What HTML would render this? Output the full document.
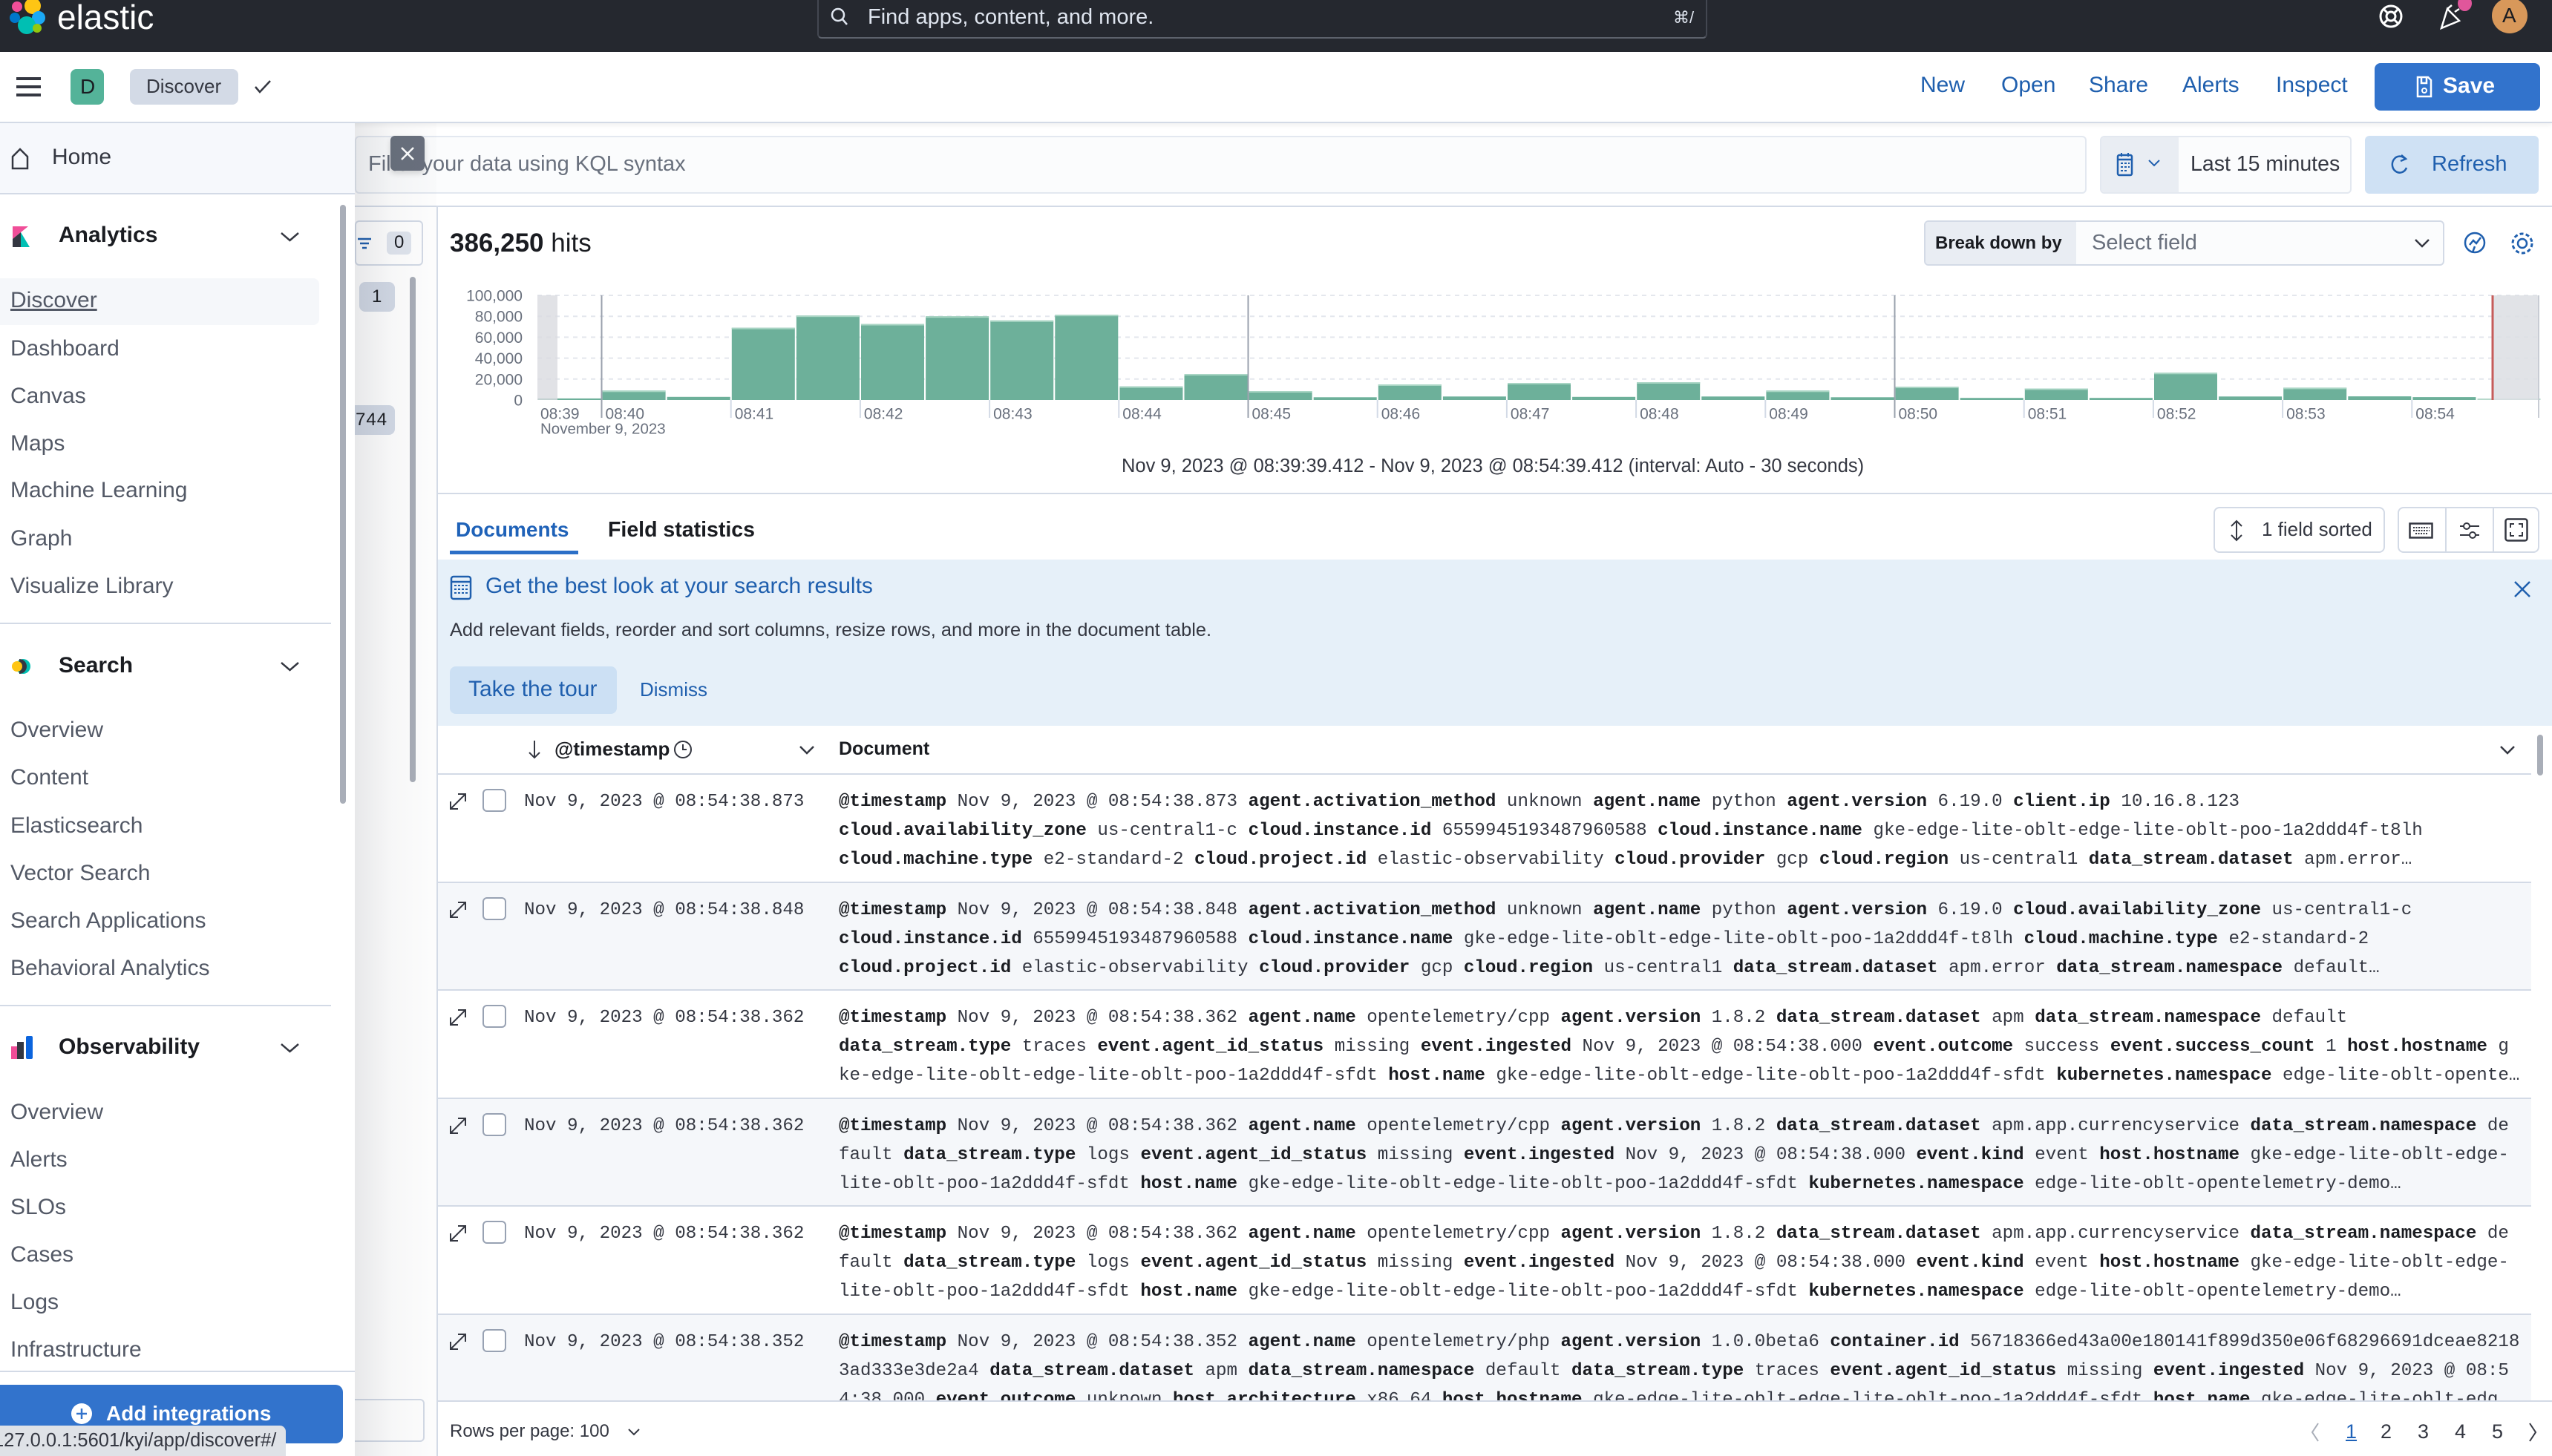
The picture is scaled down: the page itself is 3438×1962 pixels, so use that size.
<!DOCTYPE html>
<html><head><meta charset="utf-8">
<style>
*{margin:0;padding:0;box-sizing:border-box}
html,body{width:3438px;height:1962px;overflow:hidden;background:#fff;font-family:"Liberation Sans",Arial,sans-serif;color:#343741}
.a{position:absolute}
.t{position:absolute;white-space:nowrap;line-height:1}
.nav{font-size:30px;color:#535966;left:14px}
.navh{font-size:30px;font-weight:bold;color:#1a1c21;left:79px}
.lnk{font-size:30px;color:#1f5fae;top:100px}
.row{position:absolute;left:0;width:2820px;height:145.5px;border-bottom:2px solid #d3dae6}
.row.g{background:#f5f7fa}
.ts{position:absolute;left:116px;top:17px;font:24.2px/39px "Liberation Mono",monospace;white-space:pre;color:#343741}
.doc{position:absolute;left:540px;top:17px;font:24.2px/39px "Liberation Mono",monospace;white-space:pre;color:#343741}
.doc b{color:#1a1c21}
.cb{position:absolute;left:60px;top:19px;width:32px;height:31px;border:2px solid #98a2b3;border-radius:6px;background:#fff}
.ex{position:absolute;left:13px;top:22px}
</style></head><body>

<!-- Histogram chart -->
<svg class="a" style="left:0;top:0" width="3438" height="700">
<g stroke="#e4e7ed" stroke-width="2" stroke-dasharray="6 6">
<line x1="724" y1="398" x2="3419" y2="398"/><line x1="724" y1="426.2" x2="3419" y2="426.2"/><line x1="724" y1="454.4" x2="3419" y2="454.4"/><line x1="724" y1="482.6" x2="3419" y2="482.6"/><line x1="724" y1="510.8" x2="3419" y2="510.8"/>
</g>
<g fill="#6db09a">
<rect x="724.5" y="536.9" width="85" height="2.1"/>
<rect x="811.6" y="526.3" width="85" height="12.7"/>
<rect x="898.7" y="534.8" width="85" height="4.2"/>
<rect x="985.8" y="441.7" width="85" height="97.3"/>
<rect x="1072.9" y="425.2" width="85" height="113.8"/>
<rect x="1160.0" y="436.6" width="85" height="102.4"/>
<rect x="1247.1" y="426.2" width="85" height="112.8"/>
<rect x="1334.2" y="431.8" width="85" height="107.2"/>
<rect x="1421.3" y="424.2" width="85" height="114.8"/>
<rect x="1508.4" y="520.7" width="85" height="18.3"/>
<rect x="1595.5" y="504.0" width="85" height="35.0"/>
<rect x="1682.6" y="527.0" width="85" height="12.0"/>
<rect x="1769.7" y="535.3" width="85" height="3.7"/>
<rect x="1856.8" y="518.0" width="85" height="21.0"/>
<rect x="1943.9" y="534.3" width="85" height="4.7"/>
<rect x="2031.0" y="516.0" width="85" height="23.0"/>
<rect x="2118.1" y="534.8" width="85" height="4.2"/>
<rect x="2205.2" y="515.0" width="85" height="24.0"/>
<rect x="2292.3" y="534.3" width="85" height="4.7"/>
<rect x="2379.4" y="526.3" width="85" height="12.7"/>
<rect x="2466.5" y="535.3" width="85" height="3.7"/>
<rect x="2553.6" y="521.1" width="85" height="17.9"/>
<rect x="2640.7" y="536.2" width="85" height="2.8"/>
<rect x="2727.8" y="523.5" width="85" height="15.5"/>
<rect x="2814.9" y="536.2" width="85" height="2.8"/>
<rect x="2902.0" y="502.3" width="85" height="36.7"/>
<rect x="2989.1" y="534.3" width="85" height="4.7"/>
<rect x="3076.2" y="522.4" width="85" height="16.6"/>
<rect x="3163.3" y="534.1" width="85" height="4.9"/>
<rect x="3250.4" y="535.1" width="85" height="3.9"/>
<rect x="3337.5" y="537" width="85" height="2" fill="#b7d9cc"/>
</g>
<g fill="#a9d5c4">
<rect x="811.6" y="526.3" width="85" height="2"/><rect x="985.8" y="441.7" width="85" height="2"/><rect x="1072.9" y="425.2" width="85" height="2"/><rect x="1160.0" y="436.6" width="85" height="2"/><rect x="1247.1" y="426.2" width="85" height="2"/><rect x="1334.2" y="431.8" width="85" height="2"/><rect x="1421.3" y="424.2" width="85" height="2"/><rect x="1508.4" y="520.7" width="85" height="2"/><rect x="1595.5" y="504.0" width="85" height="2"/><rect x="1682.6" y="527.0" width="85" height="2"/><rect x="1856.8" y="518.0" width="85" height="2"/><rect x="2031.0" y="516.0" width="85" height="2"/><rect x="2205.2" y="515.0" width="85" height="2"/><rect x="2379.4" y="526.3" width="85" height="2"/><rect x="2553.6" y="521.1" width="85" height="2"/><rect x="2727.8" y="523.5" width="85" height="2"/><rect x="2902.0" y="502.3" width="85" height="2"/><rect x="3076.2" y="522.4" width="85" height="2"/>
</g>
<rect x="724" y="398" width="27" height="141" fill="#d9dbe0" opacity="0.8"/>
<rect x="3358" y="398" width="62" height="141" fill="#dcdee3" opacity="0.85"/>
<line x1="3358" y1="398" x2="3358" y2="539" stroke="#c65c5b" stroke-width="3"/>
<g stroke="#9aa1ad" stroke-width="2">
<line x1="810.5" y1="398" x2="810.5" y2="563"/><line x1="1681.5" y1="398" x2="1681.5" y2="563"/><line x1="2552.5" y1="398" x2="2552.5" y2="563"/>
</g>
<line x1="3420" y1="398" x2="3420" y2="563" stroke="#c8ccd4" stroke-width="2"/>
<g stroke="#d3dae6" stroke-width="2">
<line x1="984.7" y1="539" x2="984.7" y2="563"/><line x1="1158.9" y1="539" x2="1158.9" y2="563"/><line x1="1333.1" y1="539" x2="1333.1" y2="563"/><line x1="1507.3" y1="539" x2="1507.3" y2="563"/><line x1="1855.7" y1="539" x2="1855.7" y2="563"/><line x1="2029.9" y1="539" x2="2029.9" y2="563"/><line x1="2204.1" y1="539" x2="2204.1" y2="563"/><line x1="2378.3" y1="539" x2="2378.3" y2="563"/><line x1="2726.7" y1="539" x2="2726.7" y2="563"/><line x1="2900.9" y1="539" x2="2900.9" y2="563"/><line x1="3075.1" y1="539" x2="3075.1" y2="563"/><line x1="3249.3" y1="539" x2="3249.3" y2="563"/>
</g>
<g font-family="Liberation Sans, Arial, sans-serif" font-size="21" fill="#69707d">
<text x="704" y="405.5" text-anchor="end">100,000</text>
<text x="704" y="433.7" text-anchor="end">80,000</text>
<text x="704" y="461.9" text-anchor="end">60,000</text>
<text x="704" y="490.1" text-anchor="end">40,000</text>
<text x="704" y="518.3" text-anchor="end">20,000</text>
<text x="704" y="546.5" text-anchor="end">0</text>
<text x="728" y="564.5">08:39</text>
<text x="815.5" y="564.5">08:40</text>
<text x="989.7" y="564.5">08:41</text>
<text x="1163.9" y="564.5">08:42</text>
<text x="1338.1" y="564.5">08:43</text>
<text x="1512.3" y="564.5">08:44</text>
<text x="1686.5" y="564.5">08:45</text>
<text x="1860.7" y="564.5">08:46</text>
<text x="2034.9" y="564.5">08:47</text>
<text x="2209.1" y="564.5">08:48</text>
<text x="2383.3" y="564.5">08:49</text>
<text x="2557.5" y="564.5">08:50</text>
<text x="2731.7" y="564.5">08:51</text>
<text x="2905.9" y="564.5">08:52</text>
<text x="3080.1" y="564.5">08:53</text>
<text x="3254.3" y="564.5">08:54</text>
<text x="728" y="584.5" font-size="20.5">November 9, 2023</text>
</g>
</svg>

<!-- Top dark header -->
<div class="a" style="left:0;top:0;width:3438px;height:70px;background:#25282f"></div>
<svg class="a" style="left:10px;top:0" width="56" height="48">
<circle cx="34" cy="8" r="11" fill="#fec514"/>
<circle cx="13" cy="9" r="7" fill="#f04e98"/>
<circle cx="42" cy="24" r="9" fill="#1ba9f5"/>
<circle cx="10" cy="24" r="7" fill="#0077cc"/>
<circle cx="26" cy="34" r="12" fill="#00bfb3"/>
<circle cx="40" cy="38" r="6" fill="#93c90e"/>
</svg>
<div class="t" style="left:77px;top:0;font-size:46px;color:#fff">elastic</div>
<div class="a" style="left:1101px;top:-6px;width:1199px;height:58px;border:2px solid #434751;border-bottom-color:#5d626c;border-radius:6px"></div>
<svg class="a" style="left:1116px;top:8px" width="30" height="30"><circle cx="13" cy="12" r="8" fill="none" stroke="#dfe5ef" stroke-width="2.5"/><line x1="19" y1="18" x2="25" y2="25" stroke="#dfe5ef" stroke-width="2.5"/></svg>
<div class="t" style="left:1169px;top:9px;font-size:29px;color:#dfe5ef">Find apps, content, and more.</div>
<div class="t" style="left:2254px;top:13px;font-size:22px;color:#dfe5ef">⌘/</div>
<svg class="a" style="left:3203px;top:4px" width="36" height="36"><circle cx="18" cy="18" r="14" fill="none" stroke="#fff" stroke-width="3"/><circle cx="18" cy="18" r="6" fill="none" stroke="#fff" stroke-width="3"/><path d="M8 8 L14 14 M28 8 L22 14 M8 28 L14 22 M28 28 L22 22" stroke="#fff" stroke-width="3"/></svg>
<svg class="a" style="left:3283px;top:4px" width="40" height="40"><path d="M6 34 L14 8 L30 24 Z M14 8 L20 3 M24 12 L30 8" fill="none" stroke="#fff" stroke-width="2.5"/></svg>
<div class="a" style="left:3311px;top:-6px;width:19px;height:21px;border-radius:50%;background:#e0569b"></div>
<div class="a" style="left:3357px;top:-3px;width:48px;height:48px;border-radius:50%;background:#d8985a"></div>
<div class="t" style="left:3371px;top:7px;font-size:28px;color:#1a1c21">A</div>

<!-- Second header -->
<div class="a" style="left:0;top:70px;width:3438px;height:96px;background:#fff;border-bottom:2px solid #d3dae6;box-shadow:0 3px 6px rgba(0,0,0,0.06)"></div>
<div class="a" style="left:22px;top:104px;width:33px;height:4px;background:#343741"></div>
<div class="a" style="left:22px;top:115px;width:33px;height:4px;background:#343741"></div>
<div class="a" style="left:22px;top:126px;width:33px;height:4px;background:#343741"></div>
<div class="a" style="left:95px;top:93px;width:45px;height:48px;border-radius:8px;background:#54b399"></div>
<div class="t" style="left:108px;top:103px;font-size:28px;color:#1a1c21">D</div>
<div class="a" style="left:175px;top:93px;width:146px;height:48px;border-radius:8px;background:#d3dae6"></div>
<div class="t" style="left:197px;top:103px;font-size:26px;color:#343741">Discover</div>
<svg class="a" style="left:341px;top:106px" width="26" height="22"><path d="M3 11 L9 18 L23 3" fill="none" stroke="#343741" stroke-width="2.5"/></svg>
<div class="t lnk" style="left:2587px">New</div>
<div class="t lnk" style="left:2696px">Open</div>
<div class="t lnk" style="left:2814px">Share</div>
<div class="t lnk" style="left:2940px">Alerts</div>
<div class="t lnk" style="left:3066px">Inspect</div>
<div class="a" style="left:3199px;top:85px;width:223px;height:64px;border-radius:8px;background:#3273cc"></div>
<svg class="a" style="left:3254px;top:102px" width="24" height="30"><path d="M3 2 H17 L21 6 V28 H3 Z M8 2 V10 H15 V2" fill="none" stroke="#fff" stroke-width="2.5"/><circle cx="12" cy="20" r="3" fill="none" stroke="#fff" stroke-width="2"/></svg>
<div class="t" style="left:3291px;top:101px;font-size:30px;color:#fff;font-weight:bold">Save</div>

<!-- Query bar -->
<div class="a" style="left:478px;top:183px;width:2333px;height:78px;background:#fbfcfd;border:2px solid #e3e8f0;border-radius:6px"></div>
<div class="t" style="left:496px;top:207px;font-size:29px;color:#69707d">Filter your data using KQL syntax</div>
<div class="a" style="left:526px;top:183px;width:46px;height:47px;background:#69707d;border-radius:6px;box-shadow:0 4px 8px rgba(0,0,0,0.15)"></div>
<svg class="a" style="left:537px;top:195px" width="24" height="24"><path d="M4 4 L20 20 M20 4 L4 20" stroke="#fff" stroke-width="2.5"/></svg>
<div class="a" style="left:2829px;top:183px;width:339px;height:78px;background:#fbfcfd;border:2px solid #e3e8f0;border-radius:6px;overflow:hidden"><div style="position:absolute;left:0;top:0;width:104px;height:76px;background:#e9edf3"></div></div>
<svg class="a" style="left:2851px;top:205px" width="24" height="34"><rect x="2" y="4" width="19" height="27" rx="2" fill="none" stroke="#1f5fae" stroke-width="2.5"/><line x1="2" y1="10" x2="21" y2="10" stroke="#1f5fae" stroke-width="2.5"/><path d="M6 15h3M11 15h3M16 15h2M6 20h3M11 20h3M16 20h2M6 25h3M11 25h3" stroke="#1f5fae" stroke-width="2"/><path d="M7 1v5M16 1v5" stroke="#1f5fae" stroke-width="2"/></svg>
<svg class="a" style="left:2893px;top:214px" width="18" height="12"><path d="M2 2 L9 9 L16 2" fill="none" stroke="#1f5fae" stroke-width="2"/></svg>
<div class="t" style="left:2951px;top:207px;font-size:28.5px;color:#343741">Last 15 minutes</div>
<div class="a" style="left:3186px;top:183px;width:234px;height:78px;background:#cfe1f4;border-radius:6px"></div>
<svg class="a" style="left:3220px;top:206px" width="26" height="32"><path d="M20 8 A10 11 0 1 0 22 20" fill="none" stroke="#1f5fae" stroke-width="2.5"/><path d="M15 3 L21 8 L14 11" fill="none" stroke="#1f5fae" stroke-width="2.5"/></svg>
<div class="t" style="left:3276px;top:207px;font-size:29px;color:#1f5fae">Refresh</div>
<div class="a" style="left:478px;top:277px;width:2960px;height:2px;background:#d3dae6"></div>

<!-- Fields column remnants -->
<div class="a" style="left:478px;top:297px;width:92px;height:61px;border:2px solid #d3dae6;border-radius:6px;background:#fff"></div>
<svg class="a" style="left:480px;top:318px" width="22" height="20"><path d="M2 4h18M5 10h12M8 16h6" stroke="#1f5fae" stroke-width="2.5"/></svg>
<div class="a" style="left:521px;top:312px;width:33px;height:31px;border-radius:6px;background:#e0e5ee"></div>
<div class="t" style="left:531px;top:315px;font-size:24px;color:#1a1c21">0</div>
<div class="a" style="left:484px;top:380px;width:48px;height:40px;border-radius:8px;background:#d3dae6"></div>
<div class="t" style="left:501px;top:388px;font-size:24px;color:#1a1c21">1</div>
<div class="a" style="left:470px;top:546px;width:62px;height:40px;border-radius:8px;background:#d3dae6"></div>
<div class="t" style="left:479px;top:554px;font-size:24px;color:#1a1c21;letter-spacing:1px">744</div>
<div class="a" style="left:552px;top:373px;width:8px;height:681px;border-radius:4px;background:#a9aeb8"></div>
<div class="a" style="left:470px;top:1885px;width:102px;height:58px;border:2px solid #d3dae6;border-radius:6px;background:#fff"></div>
<div class="a" style="left:588px;top:279px;width:2px;height:1683px;background:#d3dae6"></div>

<!-- Main panel top -->
<div class="t" style="left:606px;top:310px;font-size:35px;color:#1a1c21"><b>386,250</b> hits</div>
<div class="a" style="left:2592px;top:297px;width:701px;height:61px;border:2px solid #d3dae6;border-radius:6px;background:#fbfcfd;overflow:hidden"><div style="position:absolute;left:0;top:0;width:203px;height:57px;background:#e9edf3"></div></div>
<div class="t" style="left:2607px;top:316px;font-size:24px;font-weight:bold;color:#1a1c21">Break down by</div>
<div class="t" style="left:2818px;top:313px;font-size:29px;color:#69707d">Select field</div>
<svg class="a" style="left:3252px;top:321px" width="22" height="14"><path d="M2 2 L11 11 L20 2" fill="none" stroke="#343741" stroke-width="2.5"/></svg>
<svg class="a" style="left:3317px;top:310px" width="34" height="36"><circle cx="17" cy="17" r="13" fill="none" stroke="#1f5fae" stroke-width="2.5"/><path d="M10 20 L15 14 L19 18 L25 10 M14 30 L17 22" fill="none" stroke="#1f5fae" stroke-width="2.5"/></svg>
<svg class="a" style="left:3380px;top:310px" width="36" height="36"><circle cx="18" cy="18" r="6" fill="none" stroke="#1f5fae" stroke-width="2.5"/><circle cx="18" cy="18" r="13" fill="none" stroke="#1f5fae" stroke-width="3" stroke-dasharray="5 3.2"/></svg>
<div class="t" style="left:1511px;top:616px;font-size:25.5px;color:#343741">Nov 9, 2023 @ 08:39:39.412 - Nov 9, 2023 @ 08:54:39.412 (interval: Auto - 30 seconds)</div>
<div class="a" style="left:590px;top:664px;width:2848px;height:2px;background:#d3dae6"></div>

<!-- Tabs -->
<div class="t" style="left:614px;top:700px;font-size:28px;font-weight:bold;color:#1f62b8">Documents</div>
<div class="t" style="left:819px;top:700px;font-size:28.5px;font-weight:bold;color:#1a1c21">Field statistics</div>
<div class="a" style="left:606px;top:742px;width:173px;height:5px;background:#2b6fc7"></div>
<div class="a" style="left:2982px;top:683px;width:231px;height:62px;border:2px solid #d3dae6;border-radius:8px"></div>
<svg class="a" style="left:3003px;top:700px" width="20" height="30"><path d="M10 2 V28 M3 9 L10 2 L17 9 M3 21 L10 28 L17 21" fill="none" stroke="#343741" stroke-width="2"/></svg>
<div class="t" style="left:3047px;top:700px;font-size:26px;color:#343741">1 field sorted</div>
<div class="a" style="left:3230px;top:683px;width:191px;height:62px;border:2px solid #d3dae6;border-radius:8px"></div>
<div class="a" style="left:3294px;top:685px;width:2px;height:58px;background:#d3dae6"></div>
<div class="a" style="left:3358px;top:685px;width:2px;height:58px;background:#d3dae6"></div>
<svg class="a" style="left:3245px;top:704px" width="34" height="22"><rect x="1.5" y="1.5" width="30" height="19" fill="none" stroke="#343741" stroke-width="2.5"/><path d="M6 7h22M6 11h22M9 15h16" stroke="#343741" stroke-width="2" stroke-dasharray="2 1.5"/></svg>
<svg class="a" style="left:3312px;top:702px" width="30" height="26"><path d="M2 7h26M2 19h26" stroke="#343741" stroke-width="2"/><circle cx="11" cy="7" r="4" fill="#fff" stroke="#343741" stroke-width="2"/><circle cx="19" cy="19" r="4" fill="#fff" stroke="#343741" stroke-width="2"/></svg>
<svg class="a" style="left:3374px;top:698px" width="32" height="32"><rect x="1.5" y="1.5" width="29" height="29" rx="3" fill="none" stroke="#343741" stroke-width="2.5"/><path d="M8 13V8h5M19 8h5v5M24 19v5h-5M13 24H8v-5" fill="none" stroke="#343741" stroke-width="2"/></svg>

<!-- Callout -->
<div class="a" style="left:590px;top:754px;width:2848px;height:224px;background:#e6f0f9"></div>
<svg class="a" style="left:606px;top:775px" width="30" height="34"><rect x="2" y="2" width="26" height="30" rx="3" fill="none" stroke="#1f5fae" stroke-width="2.5"/><line x1="2" y1="9" x2="28" y2="9" stroke="#1f5fae" stroke-width="2.5"/><path d="M6 14h18M6 19h18M6 24h18" stroke="#1f5fae" stroke-width="2" stroke-dasharray="3 2"/></svg>
<div class="t" style="left:654px;top:775px;font-size:30px;color:#1f5fae">Get the best look at your search results</div>
<div class="t" style="left:606px;top:837px;font-size:25.4px;color:#343741">Add relevant fields, reorder and sort columns, resize rows, and more in the document table.</div>
<div class="a" style="left:606px;top:898px;width:225px;height:64px;border-radius:8px;background:#cce0f4"></div>
<div class="t" style="left:631px;top:914px;font-size:30px;color:#1f5fae">Take the tour</div>
<div class="t" style="left:862px;top:916px;font-size:26px;color:#1f5fae">Dismiss</div>
<svg class="a" style="left:3385px;top:781px" width="26" height="26"><path d="M3 3 L23 23 M23 3 L3 23" stroke="#1f5fae" stroke-width="2.5"/></svg>

<!-- Table header -->
<svg class="a" style="left:711px;top:996px" width="18" height="28"><path d="M9 2 V25 M2 18 L9 25 L16 18" fill="none" stroke="#343741" stroke-width="2"/></svg>
<div class="t" style="left:747px;top:996px;font-size:26px;font-weight:bold;color:#1a1c21">@timestamp</div>
<svg class="a" style="left:906px;top:995px" width="28" height="30"><circle cx="14" cy="15" r="11" fill="none" stroke="#343741" stroke-width="2"/><path d="M14 8 V15 H19" fill="none" stroke="#343741" stroke-width="2"/></svg>
<svg class="a" style="left:1076px;top:1004px" width="22" height="14"><path d="M2 2 L11 11 L20 2" fill="none" stroke="#343741" stroke-width="2.5"/></svg>
<div class="t" style="left:1130px;top:997px;font-size:25px;font-weight:bold;color:#1a1c21">Document</div>
<svg class="a" style="left:3367px;top:1004px" width="22" height="14"><path d="M2 2 L11 11 L20 2" fill="none" stroke="#343741" stroke-width="2.5"/></svg>
<div class="a" style="left:3418px;top:990px;width:8px;height:55px;border-radius:4px;background:#a9aeb8"></div>
<div class="a" style="left:590px;top:1042px;width:2820px;height:2px;background:#d3dae6"></div>

<!-- Rows -->
<div class="a" style="left:590px;top:1044px;width:2848px;height:844px;overflow:hidden">
<div class="row" style="top:0">
<svg class="ex" width="28" height="28"><path d="M4 24 L24 4 M14 4 H24 V14 M4 14 V24 H14" fill="none" stroke="#343741" stroke-width="2"/></svg><div class="cb"></div>
<div class="ts">Nov 9, 2023 @ 08:54:38.873</div>
<div class="doc"><b>@timestamp</b> Nov 9, 2023 @ 08:54:38.873 <b>agent.activation_method</b> unknown <b>agent.name</b> python <b>agent.version</b> 6.19.0 <b>client.ip</b> 10.16.8.123
<b>cloud.availability_zone</b> us-central1-c <b>cloud.instance.id</b> 6559945193487960588 <b>cloud.instance.name</b> gke-edge-lite-oblt-edge-lite-oblt-poo-1a2ddd4f-t8lh
<b>cloud.machine.type</b> e2-standard-2 <b>cloud.project.id</b> elastic-observability <b>cloud.provider</b> gcp <b>cloud.region</b> us-central1 <b>data_stream.dataset</b> apm.error…</div>
</div>
<div class="row g" style="top:145.5px">
<svg class="ex" width="28" height="28"><path d="M4 24 L24 4 M14 4 H24 V14 M4 14 V24 H14" fill="none" stroke="#343741" stroke-width="2"/></svg><div class="cb"></div>
<div class="ts">Nov 9, 2023 @ 08:54:38.848</div>
<div class="doc"><b>@timestamp</b> Nov 9, 2023 @ 08:54:38.848 <b>agent.activation_method</b> unknown <b>agent.name</b> python <b>agent.version</b> 6.19.0 <b>cloud.availability_zone</b> us-central1-c
<b>cloud.instance.id</b> 6559945193487960588 <b>cloud.instance.name</b> gke-edge-lite-oblt-edge-lite-oblt-poo-1a2ddd4f-t8lh <b>cloud.machine.type</b> e2-standard-2
<b>cloud.project.id</b> elastic-observability <b>cloud.provider</b> gcp <b>cloud.region</b> us-central1 <b>data_stream.dataset</b> apm.error <b>data_stream.namespace</b> default…</div>
</div>
<div class="row" style="top:291px">
<svg class="ex" width="28" height="28"><path d="M4 24 L24 4 M14 4 H24 V14 M4 14 V24 H14" fill="none" stroke="#343741" stroke-width="2"/></svg><div class="cb"></div>
<div class="ts">Nov 9, 2023 @ 08:54:38.362</div>
<div class="doc"><b>@timestamp</b> Nov 9, 2023 @ 08:54:38.362 <b>agent.name</b> opentelemetry/cpp <b>agent.version</b> 1.8.2 <b>data_stream.dataset</b> apm <b>data_stream.namespace</b> default
<b>data_stream.type</b> traces <b>event.agent_id_status</b> missing <b>event.ingested</b> Nov 9, 2023 @ 08:54:38.000 <b>event.outcome</b> success <b>event.success_count</b> 1 <b>host.hostname</b> g
ke-edge-lite-oblt-edge-lite-oblt-poo-1a2ddd4f-sfdt <b>host.name</b> gke-edge-lite-oblt-edge-lite-oblt-poo-1a2ddd4f-sfdt <b>kubernetes.namespace</b> edge-lite-oblt-opente…</div>
</div>
<div class="row g" style="top:436.5px">
<svg class="ex" width="28" height="28"><path d="M4 24 L24 4 M14 4 H24 V14 M4 14 V24 H14" fill="none" stroke="#343741" stroke-width="2"/></svg><div class="cb"></div>
<div class="ts">Nov 9, 2023 @ 08:54:38.362</div>
<div class="doc"><b>@timestamp</b> Nov 9, 2023 @ 08:54:38.362 <b>agent.name</b> opentelemetry/cpp <b>agent.version</b> 1.8.2 <b>data_stream.dataset</b> apm.app.currencyservice <b>data_stream.namespace</b> de
fault <b>data_stream.type</b> logs <b>event.agent_id_status</b> missing <b>event.ingested</b> Nov 9, 2023 @ 08:54:38.000 <b>event.kind</b> event <b>host.hostname</b> gke-edge-lite-oblt-edge-
lite-oblt-poo-1a2ddd4f-sfdt <b>host.name</b> gke-edge-lite-oblt-edge-lite-oblt-poo-1a2ddd4f-sfdt <b>kubernetes.namespace</b> edge-lite-oblt-opentelemetry-demo…</div>
</div>
<div class="row" style="top:582px">
<svg class="ex" width="28" height="28"><path d="M4 24 L24 4 M14 4 H24 V14 M4 14 V24 H14" fill="none" stroke="#343741" stroke-width="2"/></svg><div class="cb"></div>
<div class="ts">Nov 9, 2023 @ 08:54:38.362</div>
<div class="doc"><b>@timestamp</b> Nov 9, 2023 @ 08:54:38.362 <b>agent.name</b> opentelemetry/cpp <b>agent.version</b> 1.8.2 <b>data_stream.dataset</b> apm.app.currencyservice <b>data_stream.namespace</b> de
fault <b>data_stream.type</b> logs <b>event.agent_id_status</b> missing <b>event.ingested</b> Nov 9, 2023 @ 08:54:38.000 <b>event.kind</b> event <b>host.hostname</b> gke-edge-lite-oblt-edge-
lite-oblt-poo-1a2ddd4f-sfdt <b>host.name</b> gke-edge-lite-oblt-edge-lite-oblt-poo-1a2ddd4f-sfdt <b>kubernetes.namespace</b> edge-lite-oblt-opentelemetry-demo…</div>
</div>
<div class="row g" style="top:727.5px">
<svg class="ex" width="28" height="28"><path d="M4 24 L24 4 M14 4 H24 V14 M4 14 V24 H14" fill="none" stroke="#343741" stroke-width="2"/></svg><div class="cb"></div>
<div class="ts">Nov 9, 2023 @ 08:54:38.352</div>
<div class="doc"><b>@timestamp</b> Nov 9, 2023 @ 08:54:38.352 <b>agent.name</b> opentelemetry/php <b>agent.version</b> 1.0.0beta6 <b>container.id</b> 56718366ed43a00e180141f899d350e06f68296691dceae8218
3ad333e3de2a4 <b>data_stream.dataset</b> apm <b>data_stream.namespace</b> default <b>data_stream.type</b> traces <b>event.agent_id_status</b> missing <b>event.ingested</b> Nov 9, 2023 @ 08:5
4:38.000 <b>event.outcome</b> unknown <b>host.architecture</b> x86_64 <b>host.hostname</b> gke-edge-lite-oblt-edge-lite-oblt-poo-1a2ddd4f-sfdt <b>host.name</b> gke-edge-lite-oblt-edg</div>
</div>
</div>

<!-- Footer -->
<div class="a" style="left:590px;top:1887px;width:2848px;height:2px;background:#d3dae6"></div>
<div class="t" style="left:606px;top:1917px;font-size:24px;color:#343741">Rows per page: 100</div>
<svg class="a" style="left:845px;top:1924px" width="18" height="12"><path d="M2 2 L9 9 L16 2" fill="none" stroke="#343741" stroke-width="2"/></svg>
<svg class="a" style="left:3112px;top:1915px" width="14" height="30"><path d="M11 3 L3 15 L11 27" fill="none" stroke="#a9aeb8" stroke-width="2"/></svg>
<div class="t" style="left:3160px;top:1916px;font-size:27px;color:#1f62b8;text-decoration:underline">1</div>
<div class="t" style="left:3207px;top:1916px;font-size:27px;color:#343741">2</div>
<div class="t" style="left:3257px;top:1916px;font-size:27px;color:#343741">3</div>
<div class="t" style="left:3307px;top:1916px;font-size:27px;color:#343741">4</div>
<div class="t" style="left:3357px;top:1916px;font-size:27px;color:#343741">5</div>
<svg class="a" style="left:3405px;top:1915px" width="14" height="30"><path d="M3 3 L11 15 L3 27" fill="none" stroke="#343741" stroke-width="2"/></svg>

<!-- Flyout shadow -->
<div class="a" style="left:478px;top:166px;width:110px;height:1796px;background:linear-gradient(to right,rgba(40,45,60,0.11),rgba(40,45,60,0.04) 45%,rgba(40,45,60,0.01))"></div>

<!-- Left nav flyout -->
<div class="a" style="left:0;top:166px;width:478px;height:1796px;background:#fff">
<div style="position:absolute;left:0;top:0;width:478px;height:96px;background:#f6f8fc;border-bottom:2px solid #d3dae6"></div>
</div>
<svg class="a" style="left:14px;top:198px" width="26" height="32"><path d="M3 13 L13 3 L23 13 V29 H3 Z" fill="none" stroke="#343741" stroke-width="2.5"/></svg>
<div class="t" style="left:70px;top:197px;font-size:30px;color:#343741">Home</div>

<svg class="a" style="left:16px;top:304px" width="26" height="30"><path d="M1 1 H22 L1 18 Z" fill="#f04e98"/><path d="M1 18 L12 9 V29 H1 Z" fill="#343741"/><path d="M12 9 L24 29 H12 Z" fill="#00bfb3"/></svg>
<div class="t navh" style="top:302px">Analytics</div>
<svg class="a" style="left:377px;top:312px" width="27" height="14"><path d="M2 2 L13.5 12 L25 2" fill="none" stroke="#343741" stroke-width="2.5"/></svg>
<div class="a" style="left:0;top:375px;width:430px;height:63px;border-radius:0 8px 8px 0;background:#f5f7fa"></div>
<div class="t nav" style="top:390px;text-decoration:underline">Discover</div>
<div class="t nav" style="top:455px">Dashboard</div>
<div class="t nav" style="top:519px">Canvas</div>
<div class="t nav" style="top:583px">Maps</div>
<div class="t nav" style="top:646px">Machine Learning</div>
<div class="t nav" style="top:711px">Graph</div>
<div class="t nav" style="top:775px">Visualize Library</div>
<div class="a" style="left:0;top:839px;width:446px;height:2px;background:#d3dae6"></div>

<svg class="a" style="left:14px;top:882px" width="34" height="32"><path d="M17 3 A13 13 0 1 1 17 29 A13 13 0 0 0 17 3 Z" fill="#00bfb3"/><circle cx="17" cy="16" r="10" fill="#00bfb3"/><path d="M12 6 A10 10 0 0 1 12 26 Z" fill="#343741"/><circle cx="9" cy="16" r="7" fill="#fec514"/></svg>
<div class="t navh" style="top:882px">Search</div>
<svg class="a" style="left:377px;top:891px" width="27" height="14"><path d="M2 2 L13.5 12 L25 2" fill="none" stroke="#343741" stroke-width="2.5"/></svg>
<div class="t nav" style="top:969px">Overview</div>
<div class="t nav" style="top:1033px">Content</div>
<div class="t nav" style="top:1098px">Elasticsearch</div>
<div class="t nav" style="top:1162px">Vector Search</div>
<div class="t nav" style="top:1226px">Search Applications</div>
<div class="t nav" style="top:1290px">Behavioral Analytics</div>
<div class="a" style="left:0;top:1354px;width:446px;height:2px;background:#d3dae6"></div>

<svg class="a" style="left:14px;top:1394px" width="32" height="34"><rect x="1" y="16" width="10" height="17" fill="#f04e98"/><rect x="9" y="10" width="9" height="23" fill="#343741"/><rect x="21" y="2" width="9" height="31" rx="2" fill="#0b64dd"/></svg>
<div class="t navh" style="top:1396px">Observability</div>
<svg class="a" style="left:377px;top:1405px" width="27" height="14"><path d="M2 2 L13.5 12 L25 2" fill="none" stroke="#343741" stroke-width="2.5"/></svg>
<div class="t nav" style="top:1484px">Overview</div>
<div class="t nav" style="top:1548px">Alerts</div>
<div class="t nav" style="top:1612px">SLOs</div>
<div class="t nav" style="top:1676px">Cases</div>
<div class="t nav" style="top:1740px">Logs</div>
<div class="t nav" style="top:1804px">Infrastructure</div>
<div class="a" style="left:0;top:1847px;width:478px;height:2px;background:#d3dae6"></div>
<div class="a" style="left:458px;top:276px;width:8px;height:807px;border-radius:4px;background:#a9aeb8"></div>

<div class="a" style="left:0;top:1866px;width:462px;height:79px;border-radius:0 10px 10px 0;background:#3273cc"></div>
<svg class="a" style="left:94px;top:1889px" width="32" height="32"><circle cx="16" cy="16" r="14" fill="#fff"/><path d="M16 9 V23 M9 16 H23" stroke="#3273cc" stroke-width="2.5"/></svg>
<div class="t" style="left:143px;top:1891px;font-size:28px;font-weight:bold;color:#fff">Add integrations</div>
<div class="a" style="left:0;top:1921px;width:385px;height:41px;background:#dfe2e7;border-radius:0 8px 0 0;overflow:hidden">
<div class="t" style="left:-9px;top:8px;font-size:25.5px;color:#343741">127.0.0.1:5601/kyi/app/discover#/</div>
</div>
</body></html>
